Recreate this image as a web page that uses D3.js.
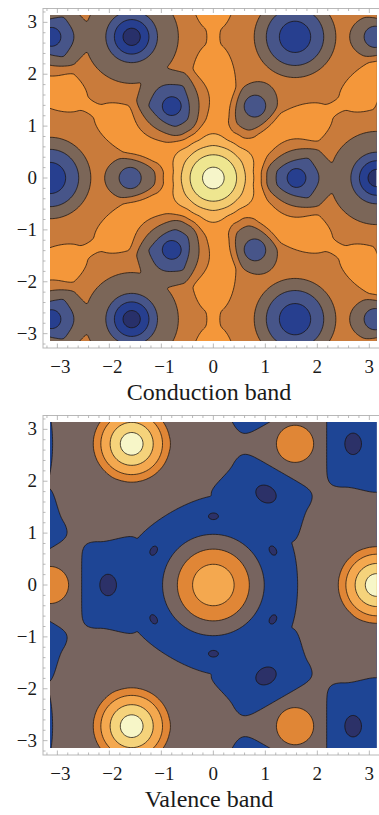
<!DOCTYPE html>
<html>
<head>
<meta charset="utf-8">
<script src="https://cdn.jsdelivr.net/npm/d3@7"></script>
<style>
  body { margin: 0; background: #fff; }
  svg { display: block; }
  text { font-family: "Liberation Serif", "DejaVu Serif", serif; fill: #1a1a1a; }
</style>
</head>
<body>
<svg id="chart" width="379" height="815"></svg>
<script>
// tick labels and titles
const tickValues = [-3, -2, -1, 0, 1, 2, 3];
const plotTitles = ["Conduction band", "Valence band"];

// band surfaces: a base level plus local bumps
// [kx, ky, height, radial reach, tangential reach, profile power]
// each bump is repeated by the three-fold rotation, the ky mirror
// and the hexagonal reciprocal lattice (power >= 6 gives a boxy bump)
const condBase = 4.5;
const condFeatures = [
  [0, 0, 4.8, 1.17, 1.17, 2],          // Gamma maximum
  [0, 1.75, 0.95, 1.2, 0.6, 4],        // ridge Gamma -> M
  [3.1416, 0, -1.9, 0.55, 0.55, 2],    // K well, core
  [3.1416, 0, -2.0, 1.27, 1.27, 2],    // K well, halo
  [-3.1416, 0, -3.0, 1.02, 1.02, 2],   // K' well
  [1.6, 0, -1.2, 0.4, 0.4, 2],         // side minimum towards K
  [1.6, 0, -1.75, 0.75, 0.9, 4],
  [-1.6, 0, -0.75, 0.3, 0.3, 2],       // side minimum towards K'
  [-1.6, 0, -1.35, 0.62, 0.52, 4]
];
const condThresholds = [1, 2, 3, 4, 5, 6, 7, 8, 9];
const condColors = ["#28306a", "#273f8f", "#475589", "#7b6658", "#c97b3b",
                    "#f4973a", "#f7b257", "#f3cb70", "#eee690", "#f6f5c9"];

const valBase = 2.5;
const valFeatures = [
  [0, 0, -1.1, 2.35, 2.35, 4],         // central trough
  [0, 0, 3.2, 1.27, 1.27, 2],          // Gamma local maximum
  [-2.05, 0, -0.95, 0.6, 1.05, 6],     // trough lobes towards K'
  [-2.06, 0, -0.8, 0.26, 0.36, 2],     // minima in the lobes
  [1.152, 0.665, -0.9, 0.16, 0.24, 2], // small minima towards M
  [3.1416, 0, 1.3, 0.4, 0.4, 2],       // K maximum
  [3.1416, 0, 2.4, 0.78, 0.78, 4],
  [3.1416, 0, 0.5, 2.3, 2.3, 2],
  [-3.1416, 0, 1.3, 0.58, 0.58, 2],    // K' bump
  [2.36, 1.36, 0.25, 0.4, 1.0, 2]      // saddle K - K'
];
const valThresholds = [1, 2, 3, 4, 5, 6];
const valColors = ["#2c3168", "#1e4595", "#77645f", "#e08636",
                   "#f4a84f", "#f5d37b", "#f7f6c8"];

const svg = d3.select("#chart");
const K = Math.PI;

function expand(features) {
  const G1 = [1.5 * K, Math.sqrt(3) / 2 * K], G2 = [0, Math.sqrt(3) * K];
  const seen = new Map();
  features.forEach(([x, y, a, rr, rt, p], idx) => {
    const th0 = (x === 0 && y === 0) ? 0 : Math.atan2(y, x);
    [1, -1].forEach(m => {
      for (let r = 0; r < 3; r++) {
        const phi = r * 2 * K / 3, y1 = m * y;
        const px = x * Math.cos(phi) - y1 * Math.sin(phi);
        const py = x * Math.sin(phi) + y1 * Math.cos(phi);
        const th = m * th0 + phi;
        for (let i = -2; i <= 2; i++) for (let j = -2; j <= 2; j++) {
          const cx = px + i * G1[0] + j * G2[0], cy = py + i * G1[1] + j * G2[1];
          if (Math.abs(cx) > 6.5 || Math.abs(cy) > 6.5) continue;
          const key = [idx, Math.round(cx * 10), Math.round(cy * 10)].join();
          if (!seen.has(key)) seen.set(key, {x: cx, y: cy, a, rr, rt, p,
            c: Math.cos(th), s: Math.sin(th), cut: rr * rr + rt * rt});
        }
      }
    });
  });
  return [...seen.values()];
}

function surface(base, features) {
  const f = expand(features);
  return (x, y) => {
    let v = base;
    for (const b of f) {
      const dx = x - b.x, dy = y - b.y;
      if (dx * dx + dy * dy >= b.cut) continue;
      const u = Math.abs(dx * b.c + dy * b.s) / b.rr, w = Math.abs(-dx * b.s + dy * b.c) / b.rt;
      let t;
      if (b.p >= 6) {
        if (u >= 1 || w >= 1) continue;
        t = (1 - Math.pow(u, b.p)) * (1 - Math.pow(w, b.p));
      } else {
        const q = Math.sqrt(u * u + w * w);
        if (q >= 1) continue;
        t = 1 - Math.pow(q, b.p);
      }
      v += b.a * t * t;
    }
    return v;
  };
}

function drawPanel(opts) {
  const {top, base, features, thresholds, colors, title, id} = opts;
  const x = d3.scaleLinear().domain([-K, K]).range([50, 376.7]);
  const y = d3.scaleLinear().domain([-K, K]).range([top + 326, top]);
  const g = svg.append("g");

  g.append("clipPath").attr("id", id)
    .append("rect").attr("x", x(-K)).attr("y", y(K))
    .attr("width", x(K) - x(-K)).attr("height", y(-K) - y(K));

  // sample the surface on a grid a little wider than the view
  const n = 240, lo = -3.45, hi = 3.45, step = (hi - lo) / n;
  const fn = surface(base, features);
  const values = new Float64Array(n * n);
  for (let j = 0; j < n; j++) {
    const ky = hi - (j + 0.5) * step;
    for (let i = 0; i < n; i++) values[j * n + i] = fn(lo + (i + 0.5) * step, ky);
  }
  const contours = d3.contours().size([n, n]).thresholds(thresholds)(values);
  const proj = d3.geoTransform({
    point(px, py) { this.stream.point(x(lo + px * step), y(hi - py * step)); }
  });
  const path = d3.geoPath(proj);

  const plot = g.append("g").attr("clip-path", `url(#${id})`);
  plot.append("rect").attr("x", x(-K)).attr("y", y(K))
    .attr("width", x(K) - x(-K)).attr("height", y(-K) - y(K))
    .attr("fill", colors[0]);
  plot.selectAll("path").data(contours).join("path")
    .attr("d", path)
    .attr("fill", (d, i) => colors[i + 1])
    .attr("stroke", "#1a1410")
    .attr("stroke-opacity", 0.85)
    .attr("stroke-width", 0.9)
    .attr("stroke-linejoin", "round");

  // frame with ticks
  const fx0 = 43, fx1 = 386, fy0 = top - 6.5, fy1 = top + 333;
  g.append("rect").attr("x", fx0).attr("y", fy0)
    .attr("width", fx1 - fx0).attr("height", fy1 - fy0)
    .attr("fill", "none").attr("stroke", "#b8b8b8").attr("stroke-width", 1);
  const minor = d3.range(-3.2, 3.21, 0.2).map(v => Math.round(v * 10) / 10);
  const tk = g.append("g").attr("stroke", "#a8a8a8").attr("stroke-width", 0.8);
  minor.forEach(v => {
    const len = Number.isInteger(v) ? 4.5 : 2.5;
    tk.append("line").attr("x1", x(v)).attr("x2", x(v)).attr("y1", fy1).attr("y2", fy1 - len);
    tk.append("line").attr("x1", x(v)).attr("x2", x(v)).attr("y1", fy0).attr("y2", fy0 + len);
    tk.append("line").attr("y1", y(v)).attr("y2", y(v)).attr("x1", fx0).attr("x2", fx0 + len);
  });

  g.selectAll(".xl").data(tickValues).join("text")
    .attr("x", d => x(d) + (d < 0 ? 3 : 0)).attr("y", fy1 + 24.5)
    .attr("text-anchor", "middle").style("font-size", "19px")
    .text(d => d < 0 ? "\u2212" + (-d) : d);
  g.selectAll(".yl").data(tickValues).join("text")
    .attr("x", 37).attr("y", d => y(d) + 6)
    .attr("text-anchor", "end").style("font-size", "19px")
    .text(d => d < 0 ? "\u2212" + (-d) : d);

  g.append("text").attr("x", 209).attr("y", fy1 + 52)
    .attr("text-anchor", "middle").style("font-size", "24px")
    .text(title);
}

drawPanel({top: 15, base: condBase, features: condFeatures,
  thresholds: condThresholds, colors: condColors, title: plotTitles[0], id: "clipC"});
drawPanel({top: 422, base: valBase, features: valFeatures,
  thresholds: valThresholds, colors: valColors, title: plotTitles[1], id: "clipV"});
</script>
</body>
</html>
